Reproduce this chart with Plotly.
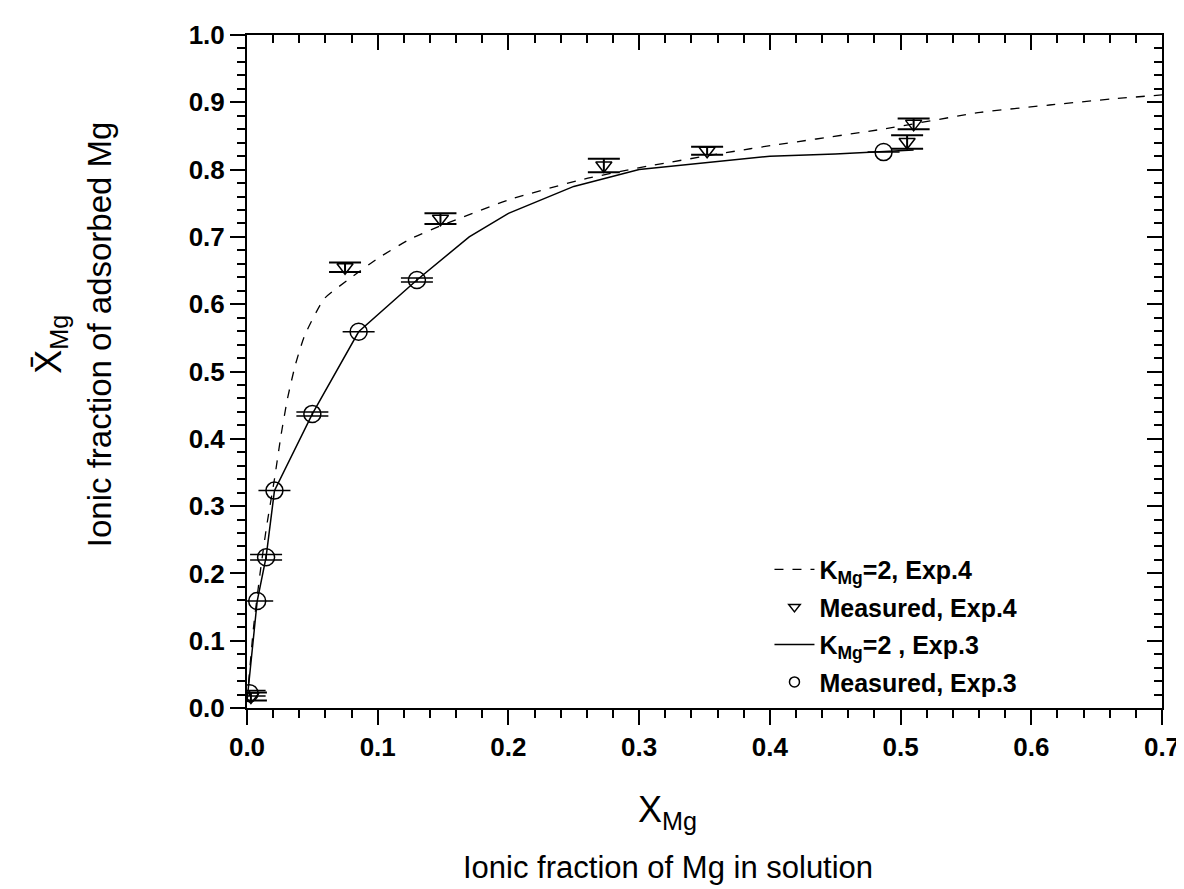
import plotly.graph_objects as go

# Measured, Exp.3 (circles)
c_x = [0.002, 0.0078, 0.0146, 0.021, 0.050, 0.0854, 0.130, 0.487]
c_y = [0.022, 0.159, 0.224, 0.323, 0.437, 0.559, 0.636, 0.826]
c_err = [0.004, 0.0, 0.004, 0.0, 0.003, 0.0, 0.003, 0.0]

# Measured, Exp.4 (triangles)
t_x = [0.003, 0.075, 0.148, 0.273, 0.352, 0.505, 0.510]
t_y = [0.017, 0.655, 0.727, 0.806, 0.828, 0.841, 0.868]
t_err = [0.006, 0.007, 0.008, 0.010, 0.006, 0.010, 0.008]

# Model K_Mg=2, Exp.3 (solid)
s_x = [0.0, 0.0078, 0.0146, 0.021, 0.050, 0.0854, 0.130, 0.170, 0.200, 0.250, 0.300, 0.350, 0.400, 0.450, 0.510]
s_y = [0.010, 0.159, 0.224, 0.323, 0.437, 0.559, 0.636, 0.700, 0.735, 0.775, 0.800, 0.810, 0.820, 0.823, 0.829]

# Model K_Mg=2, Exp.4 (dashed)
d_x = [0.0, 0.005, 0.010, 0.015, 0.021, 0.026, 0.031, 0.037, 0.044, 0.059, 0.080, 0.100, 0.125, 0.150, 0.200, 0.258, 0.309, 0.385, 0.486, 0.561, 0.614, 0.662, 0.700]
d_y = [0.010, 0.120, 0.200, 0.270, 0.340, 0.405, 0.460, 0.510, 0.553, 0.608, 0.640, 0.668, 0.697, 0.718, 0.755, 0.786, 0.806, 0.831, 0.860, 0.885, 0.896, 0.905, 0.911]

x_ticks = [0.0, 0.1, 0.2, 0.3, 0.4, 0.5, 0.6, 0.7]
y_ticks = [0.0, 0.1, 0.2, 0.3, 0.4, 0.5, 0.6, 0.7, 0.8, 0.9, 1.0]

legend_names = ["K<sub>Mg</sub>=2, Exp.4", "Measured, Exp.4", "K<sub>Mg</sub>=2 , Exp.3", "Measured, Exp.3"]

BLACK = "black"
fig = go.Figure()

dash_line = dict(color=BLACK, width=1.3, dash="dash")
solid_line = dict(color=BLACK, width=1.5)
tri_marker = dict(symbol="triangle-down-open", size=14, color=BLACK, line=dict(width=1.5))
circ_marker = dict(symbol="circle-open", size=17, color=BLACK, line=dict(width=1.5))

fig.add_trace(go.Scatter(x=d_x, y=d_y, mode="lines", line=dict(shape="spline", smoothing=0.5, **dash_line),
                         showlegend=False))
fig.add_trace(go.Scatter(x=t_x, y=t_y, mode="markers", marker=tri_marker, showlegend=False,
                         error_y=dict(type="data", array=t_err, color=BLACK, thickness=2, width=16)))
fig.add_trace(go.Scatter(x=s_x, y=s_y, mode="lines", line=solid_line, showlegend=False))
fig.add_trace(go.Scatter(x=c_x, y=c_y, mode="markers", marker=circ_marker, showlegend=False,
                         error_y=dict(type="data", array=c_err, color=BLACK, thickness=1.5, width=16)))

# legend entries (small legend symbols as in the reference)
fig.add_trace(go.Scatter(x=[None], y=[None], mode="lines", name=legend_names[0], legendgroup="a",
                         line=dash_line))
fig.add_trace(go.Scatter(x=[None], y=[None], mode="markers", name=legend_names[1], legendgroup="b",
                         marker=dict(symbol="triangle-down-open", size=10, color=BLACK, line=dict(width=1.5))))
fig.add_trace(go.Scatter(x=[None], y=[None], mode="lines", name=legend_names[2], legendgroup="c",
                         line=solid_line))
fig.add_trace(go.Scatter(x=[None], y=[None], mode="markers", name=legend_names[3], legendgroup="d",
                         marker=dict(symbol="circle-open", size=10, color=BLACK, line=dict(width=1.5))))

# empty trace to activate mirrored tick axes
fig.add_trace(go.Scatter(x=[], y=[], xaxis="x2", yaxis="y2", showlegend=False, hoverinfo="skip"))

tickfont = dict(family="Arial", size=26, color=BLACK, weight="bold")
common = dict(showgrid=False, zeroline=False, showline=True, linecolor=BLACK, linewidth=2,
              ticklen=15, tickwidth=2, tickcolor=BLACK)

fig.update_layout(
    width=1184, height=889,
    margin=dict(l=239, r=21, t=24, b=189),
    paper_bgcolor="white", plot_bgcolor="white",
    showlegend=True,
    legend=dict(x=0.571, y=0.005, xanchor="left", yanchor="bottom",
                bgcolor="rgba(0,0,0,0)", borderwidth=0,
                font=dict(family="Arial", size=25, color=BLACK, weight="bold"),
                tracegroupgap=2, itemwidth=40),
    xaxis=dict(range=[0, 0.7], tickvals=x_ticks, tickformat=".1f", ticks="outside",
               tickfont=tickfont, mirror=True,
               minor=dict(dtick=0.02, ticks="outside", ticklen=8, tickwidth=2, tickcolor=BLACK),
               **common),
    yaxis=dict(range=[0, 1.0], tickvals=y_ticks, tickformat=".1f", ticks="outside",
               tickfont=tickfont, mirror=True,
               minor=dict(dtick=0.02, ticks="outside", ticklen=8, tickwidth=2, tickcolor=BLACK),
               **common),
    xaxis2=dict(range=[0, 0.7], overlaying="x", side="top", tickvals=x_ticks, ticks="inside",
                showticklabels=False,
                minor=dict(dtick=0.02, ticks="inside", ticklen=8, tickwidth=2, tickcolor=BLACK),
                **common),
    yaxis2=dict(range=[0, 1.0], overlaying="y", side="right", tickvals=y_ticks, ticks="inside",
                showticklabels=False,
                minor=dict(dtick=0.02, ticks="inside", ticklen=8, tickwidth=2, tickcolor=BLACK),
                **common),
)

ann = dict(xref="paper", yref="paper", showarrow=False, xanchor="center", yanchor="middle")
fig.add_annotation(text="X<sub>Mg</sub>", x=0.46, y=-0.155,
                   font=dict(family="Arial", size=36, color=BLACK), **ann)
fig.add_annotation(text="Ionic fraction of Mg in solution", x=0.46, y=-0.237,
                   font=dict(family="Arial", size=31, color=BLACK), **ann)
fig.add_annotation(text="Ionic fraction of adsorbed Mg", x=-0.161, y=0.555, textangle=-90,
                   font=dict(family="Arial", size=33, color=BLACK), **ann)
fig.add_annotation(text="X\u0304<sub>Mg</sub>", x=-0.215, y=0.54, textangle=-90,
                   font=dict(family="Arial", size=36, color=BLACK), **ann)

fig.write_html("out.html")
